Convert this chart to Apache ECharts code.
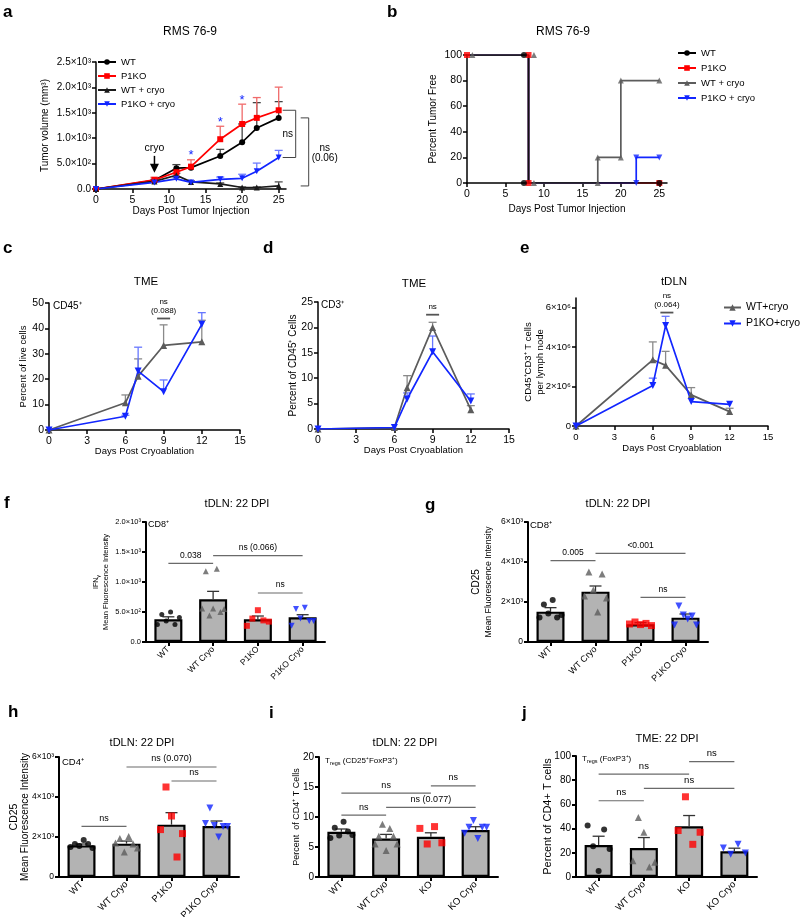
<!DOCTYPE html>
<html>
<head>
<meta charset="utf-8">
<title>Cryoablation figure</title>
<script src="https://cdn.jsdelivr.net/npm/echarts@6/dist/echarts.min.js"></script>
<style>
html, body { margin: 0; padding: 0; background: #fff; }
#chartmain { width: 800px; height: 917px; }
</style>
</head>
<body>
<div id="chartmain"></div>
<script>
// ---- data ----
// a: tumour growth (mean, upper SEM)
const aDays = [0, 8, 11, 13, 17, 20, 22, 25];
const aWT = [0, 170, 410, 420, 650, 920, 1200, 1400];
const aWTSem = [0, 20, 70, 0, 130, 360, 500, 320];
const aKO = [0, 180, 330, 440, 980, 1280, 1400, 1550];
const aKOSem = [0, 50, 40, 135, 255, 390, 400, 455];
const aWTCryo = [0, 150, 270, 140, 100, 30, 30, 60];
const aWTCryoSem = [0, 20, 40, 20, 20, 10, 10, 80];
const aKOCryo = [0, 130, 200, 130, 190, 210, 350, 620];
const aKOCryoSem = [0, 20, 30, 20, 45, 80, 160, 140];
const aStarDays = [13, 17, 20];
const aYTicks = [0, 500, 1000, 1500, 2000, 2500];
const aYLabels = ['0.0', '5.0×10²', '1.0×10³', '1.5×10³', '2.0×10³', '2.5×10³'];
const dayTicks25 = [0, 5, 10, 15, 20, 25];

// b: percent tumour free (step curves + marks)
const bWT = [[0, 100], [8, 0], [25, 0]];
const bKO = [[0, 100], [8, 0], [25, 0]];
const bWTCryo = [[0, 100], [8, 0], [17, 20], [20, 80], [25, 80]];
const bKOCryo = [[0, 100], [8, 0], [22, 20], [25, 20]];
const bWTMarks = [[7.4, 100], [7.4, 0], [25, 0]];
const bKOMarks = [[0, 100], [8, 100], [8, 0], [25, 0]];
const bWTCryoMarks = [[0.7, 100], [8.7, 100], [8.7, 0], [17, 0], [17, 20], [20, 20], [20, 80], [25, 80]];
const bKOCryoMarks = [[22, 0], [22, 20], [25, 20]];
const bYTicks = [0, 20, 40, 60, 80, 100];

// c, d, e: days post cryoablation
const tDays = [0, 6, 7, 9, 12];
const tDayTicks = [0, 3, 6, 9, 12, 15];
const cWT = [0, 10.7, 21.2, 33.3, 34.7], cWTSem = [0, 3.1, 6.8, 8.1, 8.5];
const cKO = [0, 5.4, 23.2, 15.1, 41.6], cKOSem = [0, 0.4, 9.4, 4.6, 4.6];
const cYTicks = [0, 10, 20, 30, 40, 50];
const dWT = [0, 0.3, 8.1, 20, 3.8], dWTSem = [0, 0, 2.4, 1.0, 0.8];
const dKO = [0, 0.3, 5.9, 15.2, 5.5], dKOSem = [0, 0, 1.2, 3.1, 1.4];
const dYTicks = [0, 5, 10, 15, 20, 25];
const eWT = [0, 3.36e6, 3.08e6, 1.58e6, 0.73e6], eWTSem = [0, 0.91e6, 0.71e6, 0.37e6, 0.17e6];
const eKO = [0, 2.06e6, 5.1e6, 1.24e6, 1.1e6], eKOSem = [0, 0.37e6, 0.47e6, 0, 0];
const eYTicks = [0, 2e6, 4e6, 6e6];
const eYLabels = ['0', '2×10⁶', '4×10⁶', '6×10⁶'];

// f-j: bar + dot panels
const p1Cats = ['WT', 'WT Cryo', 'P1KO', 'P1KO Cryo'];
const koCats = ['WT', 'WT Cryo', 'KO', 'KO Cryo'];

const fMean = [380, 711, 378, 411], fSem = [40, 133, 55, 44];
const fDots = [[290, 460, 350, 500, 290, 410], [560, 1180, 440, 560, 1220, 500, 550], [270, 390, 530, 360, 340], [270, 550, 390, 570, 350, 350]];
const fSig = [[0, 1, 1310, '0.038'], [1, 3, 1440, 'ns (0.066)'], [2, 3, 817, 'ns']];
const fYTicks = [0, 500, 1000, 1500, 2000];
const fYLabels = ['0.0', '5.0×10²', '1.0×10³', '1.5×10³', '2.0×10³'];

const gMean = [1517, 2517, 883, 1217], gSem = [200, 283, 84, 183];
const gDots = [[1220, 1880, 1430, 2100, 1230, 1350], [2300, 3500, 2600, 1500, 3400, 2200], [900, 1000, 870, 930, 820], [850, 1800, 1350, 1150, 1300, 850]];
const gSig = [[0, 1, 4067, '0.005'], [1, 3, 4433, '<0.001'], [2, 3, 2233, 'ns']];

const hMean = [1580, 1667, 2617, 2550], hSem = [70, 130, 600, 250];
const hDots = [[1500, 1650, 1550, 1850, 1650, 1450], [1700, 1920, 1250, 2030, 1650, 1450], [2370, 4500, 3050, 1000, 2170], [2670, 3450, 2570, 2000, 2530, 2530]];
const hSig = [[1, 3, 5500, 'ns (0.070)'], [2, 3, 4800, 'ns'], [0, 1, 2533, 'ns']];
const ghYTicks = [0, 2000, 4000, 6000];
const ghYLabels = ['0', '2×10³', '4×10³', '6×10³'];

const iMean = [7.54, 6.42, 6.7, 7.82], iSem = [0.46, 0.68, 0.67, 0.56];
const iDots = [[6.5, 8.2, 6.9, 9.2, 7.6, 7.0], [5.5, 6.8, 8.8, 4.4, 8.1, 6.8, 5.5], [8.1, 5.5, 8.4, 5.7], [7.3, 8.3, 9.4, 6.4, 8.3, 8.3]];
const iSig = [[0, 2, 13.97, 'ns'], [2, 3, 15.2, 'ns'], [1, 3, 11.6, 'ns (0.077)'], [0, 1, 10.3, 'ns']];
const iYTicks = [0, 5, 10, 15, 20];

const jMean = [26.5, 24, 42, 21.3], jSem = [7.2, 8.6, 8.8, 2.5];
const jDots = [[42.5, 25.4, 5, 39.2, 23.2], [13.5, 49.2, 37, 8.3, 12.2], [38.4, 66.3, 27, 37], [24, 18.8, 27, 19.9]];
const jSig = [[2, 3, 95.3, 'ns'], [0, 2, 85, 'ns'], [1, 3, 73.2, 'ns'], [0, 1, 63, 'ns']];
const jYTicks = [0, 20, 40, 60, 80, 100];

// ---- styles ----
const FONT = "'Liberation Sans', Arial, Helvetica, sans-serif";
const BLACK = '#000', RED = '#ff0000', GREY = '#5c5c5c', BLUE = '#1226ff', BAR = '#b3b3b3';
const DOWN = 'path://M0,0L10,0L5,9Z';
const groupColor = [BLACK, GREY, RED, BLUE];
const groupSymbol = ['circle', 'triangle', 'rect', DOWN];

const grids = [
  { left: 96, top: 62, width: 190, height: 127 },   // a
  { left: 467, top: 55, width: 200, height: 128 },  // b
  { left: 49, top: 303, width: 191, height: 127 },  // c
  { left: 318, top: 302, width: 191, height: 127 }, // d
  { left: 576, top: 298, width: 192, height: 128 }, // e
  { left: 146, top: 522, width: 179, height: 120 }, // f
  { left: 528, top: 522, width: 180, height: 120 }, // g
  { left: 59, top: 757, width: 180, height: 120 },  // h
  { left: 319, top: 757, width: 179, height: 120 }, // i
  { left: 576, top: 756, width: 181, height: 121 }  // j
].map(g => Object.assign({ containLabel: false, outerBoundsMode: 'none' }, g));

function vAxis(gi, min, max, ticks, labels, o) {
  o = o || {};
  const lw = o.lw || 1.5;
  return {
    gridIndex: gi, type: 'value', min: min, max: max,
    name: o.name || '', nameLocation: 'middle', nameGap: o.nameGap || 20, nameMoveOverlap: false,
    nameTextStyle: Object.assign({ color: BLACK, fontSize: o.nameSize || 10, fontFamily: FONT, lineHeight: o.nameLH }, o.nameStyle || {}),
    axisLine: { show: true, onZero: false, lineStyle: { color: BLACK, width: lw } },
    axisTick: { show: true, length: 4, customValues: ticks, lineStyle: { color: BLACK, width: lw } },
    axisLabel: {
      color: BLACK, fontSize: o.fontSize || 10, fontFamily: FONT, margin: o.margin || 5, customValues: ticks,
      formatter: v => labels ? labels[ticks.indexOf(v)] : String(v)
    },
    splitLine: { show: false }
  };
}

function cAxis(gi, cats, fs) {
  return {
    gridIndex: gi, type: 'category', data: cats,
    axisLine: { show: true, onZero: false, lineStyle: { color: BLACK, width: 2 } },
    axisTick: { show: true, alignWithLabel: true, length: 4, lineStyle: { color: BLACK, width: 2 } },
    axisLabel: { rotate: 45, interval: 0, fontSize: fs, color: BLACK, fontFamily: FONT, margin: 6 },
    splitLine: { show: false }
  };
}

function errSeries(gi, xs, means, sems, color, cap, z) {
  const data = [];
  xs.forEach((x, i) => { if (sems[i] > 0) data.push([x, means[i], means[i] + sems[i]]); });
  return {
    type: 'custom', xAxisIndex: gi, yAxisIndex: gi, silent: true, z: z, data: data,
    renderItem: (params, api) => {
      const b = api.coord([api.value(0), api.value(1)]);
      const t = api.coord([api.value(0), api.value(2)]);
      const st = { stroke: color, lineWidth: 1.3 };
      return {
        type: 'group', children: [
          { type: 'line', shape: { x1: b[0], y1: b[1], x2: t[0], y2: t[1] }, style: st },
          { type: 'line', shape: { x1: t[0] - cap, y1: t[1], x2: t[0] + cap, y2: t[1] }, style: st }
        ]
      };
    }
  };
}

function lineSeries(gi, name, xs, ys, color, symbol, size) {
  return {
    type: 'line', name: name, xAxisIndex: gi, yAxisIndex: gi, silent: true, z: 3,
    data: xs.map((x, i) => [x, ys[i]]),
    symbol: symbol, symbolSize: size, showSymbol: true, color: color,
    lineStyle: { color: color, width: 1.7 }, itemStyle: { color: color }
  };
}

function stepSeries(name, pts, color) {
  return {
    type: 'line', name: name, xAxisIndex: 1, yAxisIndex: 1, silent: true, step: 'end', z: 3,
    data: pts, showSymbol: false, symbol: 'none', color: color,
    lineStyle: { color: color, width: 1.7 }
  };
}

function markSeries(pts, color, symbol, size) {
  return {
    type: 'scatter', xAxisIndex: 1, yAxisIndex: 1, silent: true, z: 4,
    data: pts, symbol: symbol, symbolSize: size, itemStyle: { color: color }
  };
}

function barPanel(gi, means, sems, dots, dotSize) {
  const list = [{
    type: 'bar', xAxisIndex: gi, yAxisIndex: gi, silent: true, z: 2, data: means, barWidth: 28,
    itemStyle: { color: BAR, borderColor: BLACK, borderWidth: 2.2 }
  }];
  list.push(errSeries(gi, [0, 1, 2, 3], means, sems, '#333', 6, 3));
  dots.forEach((vals, c) => {
    const n = vals.length;
    list.push({
      type: 'scatter', xAxisIndex: gi, yAxisIndex: gi, silent: true, z: 4,
      symbol: groupSymbol[c], symbolSize: c === 0 ? dotSize : dotSize + 1,
      itemStyle: { color: groupColor[c] },
      data: vals.map((v, k) => ({ value: [c, v], symbolOffset: [n > 1 ? (k / (n - 1) - 0.5) * 22 : 0, 0] }))
    });
  });
  return list;
}

const xAxes = [
  vAxis(0, 0, 26, dayTicks25, null, { name: 'Days Post Tumor Injection', nameGap: 17, fontSize: 10.5, margin: 6 }),
  vAxis(1, 0, 26, dayTicks25, null, { name: 'Days Post Tumor Injection', nameGap: 21, fontSize: 10.5, margin: 6 }),
  vAxis(2, 0, 15, tDayTicks, null, { name: 'Days Post Cryoablation', nameGap: 16, nameSize: 9.5, fontSize: 10.5, margin: 6 }),
  vAxis(3, 0, 15, tDayTicks, null, { name: 'Days Post Cryoablation', nameGap: 16, nameSize: 9.5, fontSize: 10.5, margin: 6 }),
  vAxis(4, 0, 15, tDayTicks, null, { name: 'Days Post Cryoablation', nameGap: 17, nameSize: 9.5, fontSize: 9.5, margin: 6 }),
  cAxis(5, p1Cats, 8.5),
  cAxis(6, p1Cats, 9),
  cAxis(7, p1Cats, 9.5),
  cAxis(8, koCats, 9.5),
  cAxis(9, koCats, 9.5)
];

const yAxes = [
  vAxis(0, 0, 2500, aYTicks, aYLabels, { name: 'Tumor volume (mm³)', nameGap: 46, fontSize: 10 }),
  vAxis(1, 0, 100, bYTicks, null, { name: 'Percent Tumor Free', nameGap: 29, fontSize: 10.5 }),
  vAxis(2, 0, 50, cYTicks, null, { name: 'Percent of live cells', nameGap: 21, nameSize: 9.5, fontSize: 10.5 }),
  vAxis(3, 0, 25, dYTicks, null, { name: 'Percent of CD45⁺ Cells', nameGap: 20, fontSize: 10.5 }),
  vAxis(4, 0, 6.5e6, eYTicks, eYLabels, { name: 'CD45⁺CD3⁺ T cells\nper lymph node', nameGap: 30, nameSize: 9.5, nameLH: 12, fontSize: 9.5 }),
  vAxis(5, 0, 2000, fYTicks, fYLabels, {
    name: '{s|IFN}{u|γ}\n{m|Mean Fluorescence Intensity}', nameGap: 36, lw: 2, fontSize: 7.5,
    nameStyle: { rich: {
      s: { fontSize: 7, fontFamily: FONT, color: BLACK, lineHeight: 9 },
      u: { fontSize: 5.5, fontFamily: FONT, color: BLACK, lineHeight: 9, verticalAlign: 'bottom' },
      m: { fontSize: 7.5, fontFamily: FONT, color: BLACK, lineHeight: 9 } } }
  }),
  vAxis(6, 0, 6000, ghYTicks, ghYLabels, {
    name: '{a|CD25}\n{m|Mean Fluorescence Intensity}', nameGap: 33, lw: 2, fontSize: 8.5,
    nameStyle: { rich: {
      a: { fontSize: 10, fontFamily: FONT, color: BLACK, lineHeight: 13 },
      m: { fontSize: 8.7, fontFamily: FONT, color: BLACK, lineHeight: 12 } } }
  }),
  vAxis(7, 0, 6000, ghYTicks, ghYLabels, {
    name: '{a|CD25}\n{m|Mean Fluorescence Intensity}', nameGap: 28, lw: 2, fontSize: 8.5,
    nameStyle: { rich: {
      a: { fontSize: 10.5, fontFamily: FONT, color: BLACK, lineHeight: 11 },
      m: { fontSize: 10, fontFamily: FONT, color: BLACK, lineHeight: 11 } } }
  }),
  vAxis(8, 0, 20, iYTicks, null, { name: 'Percent  of CD4⁺ T Cells', nameGap: 18, nameSize: 9, lw: 2, fontSize: 10 }),
  vAxis(9, 0, 100, jYTicks, null, { name: 'Percent of CD4+ T cells', nameGap: 23, nameSize: 11, lw: 2, fontSize: 10 })
];

let series = [];
// a
series.push(errSeries(0, aDays, aWT, aWTSem, '#444', 4, 1));
series.push(errSeries(0, aDays, aKO, aKOSem, '#f06a6a', 4, 1));
series.push(errSeries(0, aDays, aWTCryo, aWTCryoSem, '#555', 4, 1));
series.push(errSeries(0, aDays, aKOCryo, aKOCryoSem, '#6f7dff', 4, 1));
series.push(lineSeries(0, 'WT', aDays, aWT, BLACK, 'circle', 6));
series.push(lineSeries(0, 'P1KO', aDays, aKO, RED, 'rect', 6));
series.push(lineSeries(0, 'WT + cryo', aDays, aWTCryo, '#1a1a1a', 'triangle', 6));
series.push(lineSeries(0, 'P1KO + cryo', aDays, aKOCryo, BLUE, DOWN, 6));
// b
series.push(stepSeries('P1KO', bKO, RED));
series.push(stepSeries('P1KO + cryo', bKOCryo, BLUE));
series.push(stepSeries('WT + cryo', bWTCryo, GREY));
series.push(stepSeries('WT', bWT, '#111'));
series.push(markSeries(bKOMarks, RED, 'rect', 6));
series.push(markSeries(bWTCryoMarks, GREY, 'triangle', 6));
series.push(markSeries(bKOCryoMarks, BLUE, DOWN, 6));
series.push(markSeries(bWTMarks, BLACK, 'circle', 6));
// c, d, e
[[2, cWT, cWTSem, cKO, cKOSem], [3, dWT, dWTSem, dKO, dKOSem], [4, eWT, eWTSem, eKO, eKOSem]].forEach(p => {
  series.push(errSeries(p[0], tDays, p[1], p[2], '#8a8a8a', 4, 1));
  series.push(errSeries(p[0], tDays, p[3], p[4], '#6677ff', 4, 1));
  series.push(lineSeries(p[0], 'WT+cryo', tDays, p[1], GREY, 'triangle', 7));
  series.push(lineSeries(p[0], 'P1KO+cryo', tDays, p[3], BLUE, DOWN, 7));
});
// f-j
series = series.concat(barPanel(5, fMean, fSem, fDots, 5));
series = series.concat(barPanel(6, gMean, gSem, gDots, 6));
series = series.concat(barPanel(7, hMean, hSem, hDots, 6));
series = series.concat(barPanel(8, iMean, iSem, iDots, 6));
series = series.concat(barPanel(9, jMean, jSem, jDots, 6));

const legendText = { color: BLACK, fontSize: 9.5, fontFamily: FONT };
const option = {
  animation: false,
  backgroundColor: '#fff',
  grid: grids,
  xAxis: xAxes,
  yAxis: yAxes,
  legend: [
    { left: 92, top: 52, orient: 'vertical', itemGap: 4, itemWidth: 18, itemHeight: 7, selectedMode: false,
      textStyle: legendText, data: ['WT', 'P1KO', 'WT + cryo', 'P1KO + cryo'] },
    { left: 672, top: 43, orient: 'vertical', itemGap: 5, itemWidth: 18, itemHeight: 7, selectedMode: false,
      textStyle: legendText,
      data: ['WT', 'P1KO', { name: 'WT + cryo', itemStyle: { color: GREY }, lineStyle: { color: GREY } }, 'P1KO + cryo'] },
    { left: 718, top: 297, orient: 'vertical', itemGap: 5, itemWidth: 17, itemHeight: 8, selectedMode: false,
      textStyle: { color: BLACK, fontSize: 10.5, fontFamily: FONT }, data: ['WT+cryo', 'P1KO+cryo'] }
  ],
  series: series
};

const myChart = echarts.init(document.getElementById('chartmain'));
myChart.setOption(option);

// ---- annotations placed through the axes ----
function px(gi, x, y) { return myChart.convertToPixel({ gridIndex: gi }, [x, y]); }
function txt(x, y, text, size, o) {
  o = o || {};
  return {
    type: 'text', x: x, y: y, silent: true, z: 10,
    style: Object.assign({
      text: text, fill: o.color || BLACK, fontSize: size, fontFamily: FONT, fontWeight: o.weight || 'normal',
      align: o.align || 'center', verticalAlign: 'middle', textAlign: o.align || 'center', textVerticalAlign: 'middle'
    }, o.rich ? { rich: o.rich } : {})
  };
}
function seg(x1, y1, x2, y2, color, w) {
  return { type: 'line', silent: true, z: 10, shape: { x1: x1, y1: y1, x2: x2, y2: y2 }, style: { stroke: color || '#666', lineWidth: w || 1 } };
}
function sigLines(gi, list, size) {
  const out = [];
  list.forEach(s => {
    const p1 = px(gi, s[0], s[2]), p2 = px(gi, s[1], s[2]);
    out.push(seg(p1[0], p1[1], p2[0], p2[1], '#6a6a6a', 1.2));
    out.push(txt((p1[0] + p2[0]) / 2, p1[1] - 8, s[3], size));
  });
  return out;
}
function pointSig(gi, x, y, lines, size) {
  const p = px(gi, x, y);
  const out = [seg(p[0] - 6.5, p[1], p[0] + 6.5, p[1], '#555', 1.8)];
  lines.forEach((t, k) => out.push(txt(p[0], p[1] - 8 - (lines.length - 1 - k) * 9, t, size)));
  return out;
}

function buildGraphics() {
  let g = [];
  // panel letters
  [['a', 3, 12], ['b', 387, 12], ['c', 3, 248], ['d', 263, 248], ['e', 520, 248],
   ['f', 4, 503], ['g', 425, 505], ['h', 8, 712], ['i', 269, 713], ['j', 522, 713]].forEach(l =>
    g.push(txt(l[1], l[2], l[0], 17, { weight: 'bold', align: 'left' })));
  // titles
  [['RMS 76-9', 190, 32, 12], ['RMS 76-9', 563, 32, 12], ['TME', 146, 282, 11.5], ['TME', 414, 284, 11.5],
   ['tDLN', 674, 282, 11.5], ['tDLN: 22 DPI', 237, 504, 11], ['tDLN: 22 DPI', 618, 504, 11],
   ['tDLN: 22 DPI', 142, 743, 11], ['tDLN: 22 DPI', 405, 743, 11], ['TME: 22 DPI', 667, 739, 11]].forEach(t =>
    g.push(txt(t[1], t[2], t[0], t[3])));
  // inner population labels
  g.push(txt(53, 306, 'CD45⁺', 10, { align: 'left' }));
  g.push(txt(321, 305, 'CD3⁺', 10, { align: 'left' }));
  g.push(txt(148, 525, 'CD8⁺', 9, { align: 'left' }));
  g.push(txt(530, 525, 'CD8⁺', 9.5, { align: 'left' }));
  g.push(txt(62, 762, 'CD4⁺', 9.5, { align: 'left' }));
  const sub = { t: { fontSize: 8, fontFamily: FONT, color: BLACK, lineHeight: 10 },
                s: { fontSize: 5.5, fontFamily: FONT, color: BLACK, lineHeight: 10, verticalAlign: 'bottom' } };
  g.push(txt(325, 761, '{t|T}{s|regs}{t| (CD25⁺FoxP3⁺)}', 8, { align: 'left', rich: sub }));
  g.push(txt(582, 759, '{t|T}{s|regs}{t| (FoxP3⁺)}', 8, { align: 'left', rich: sub }));

  // a: cryo arrow at day 8
  const pc = px(0, 8, Math.max(aWT[1], aKO[1]));
  g.push(seg(pc[0], pc[1] - 24, pc[0], pc[1] - 14, BLACK, 1.5));
  g.push({ type: 'polygon', silent: true, z: 10, shape: { points: [[pc[0] - 4.5, pc[1] - 16], [pc[0] + 4.5, pc[1] - 16], [pc[0], pc[1] - 7]] }, style: { fill: BLACK } });
  g.push(txt(pc[0], pc[1] - 32, 'cryo', 10.5));
  // a: stars over the P1KO error bars
  aStarDays.forEach(d => {
    const i = aDays.indexOf(d);
    const p = px(0, d, aKO[i] + aKOSem[i]);
    g.push(txt(p[0], p[1] - 4, '*', 13, { color: BLUE }));
  });
  // a: brackets at day 25
  const last = aDays.length - 1;
  const k1 = px(0, 25, aKO[last]), k2 = px(0, 25, aKOCryo[last]);
  g.push(seg(k1[0] + 4, k1[1], k1[0] + 17, k1[1], '#444', 1));
  g.push(seg(k1[0] + 17, k1[1], k1[0] + 17, k2[1], '#444', 1));
  g.push(seg(k1[0] + 4, k2[1], k1[0] + 17, k2[1], '#444', 1));
  g.push(txt(k1[0] + 9, (k1[1] + k2[1]) / 2, 'ns', 10));
  const w1 = px(0, 25, aWT[last]), w2 = px(0, 25, aWTCryo[last]);
  g.push(seg(w1[0] + 22, w1[1], w1[0] + 30, w1[1], '#444', 1));
  g.push(seg(w1[0] + 30, w1[1], w1[0] + 30, w2[1], '#444', 1));
  g.push(seg(w1[0] + 22, w2[1], w1[0] + 30, w2[1], '#444', 1));
  g.push(txt(w1[0] + 46, (w1[1] + w2[1]) / 2 - 4, 'ns', 10));
  g.push(txt(w1[0] + 46, (w1[1] + w2[1]) / 2 + 6, '(0.06)', 10));

  // c, d, e significance
  g = g.concat(pointSig(2, 9, 43.9, ['ns', '(0.088)'], 8));
  g = g.concat(pointSig(3, 9, 22.5, ['ns'], 8));
  g = g.concat(pointSig(4, 7.1, 5.76e6, ['ns', '(0.064)'], 8));

  // f-j comparisons
  g = g.concat(sigLines(5, fSig, 8.5));
  g = g.concat(sigLines(6, gSig, 8.5));
  g = g.concat(sigLines(7, hSig, 9));
  g = g.concat(sigLines(8, iSig, 9));
  g = g.concat(sigLines(9, jSig, 9.5));
  return g;
}

myChart.setOption({ graphic: buildGraphics() });
</script>
</body>
</html>
